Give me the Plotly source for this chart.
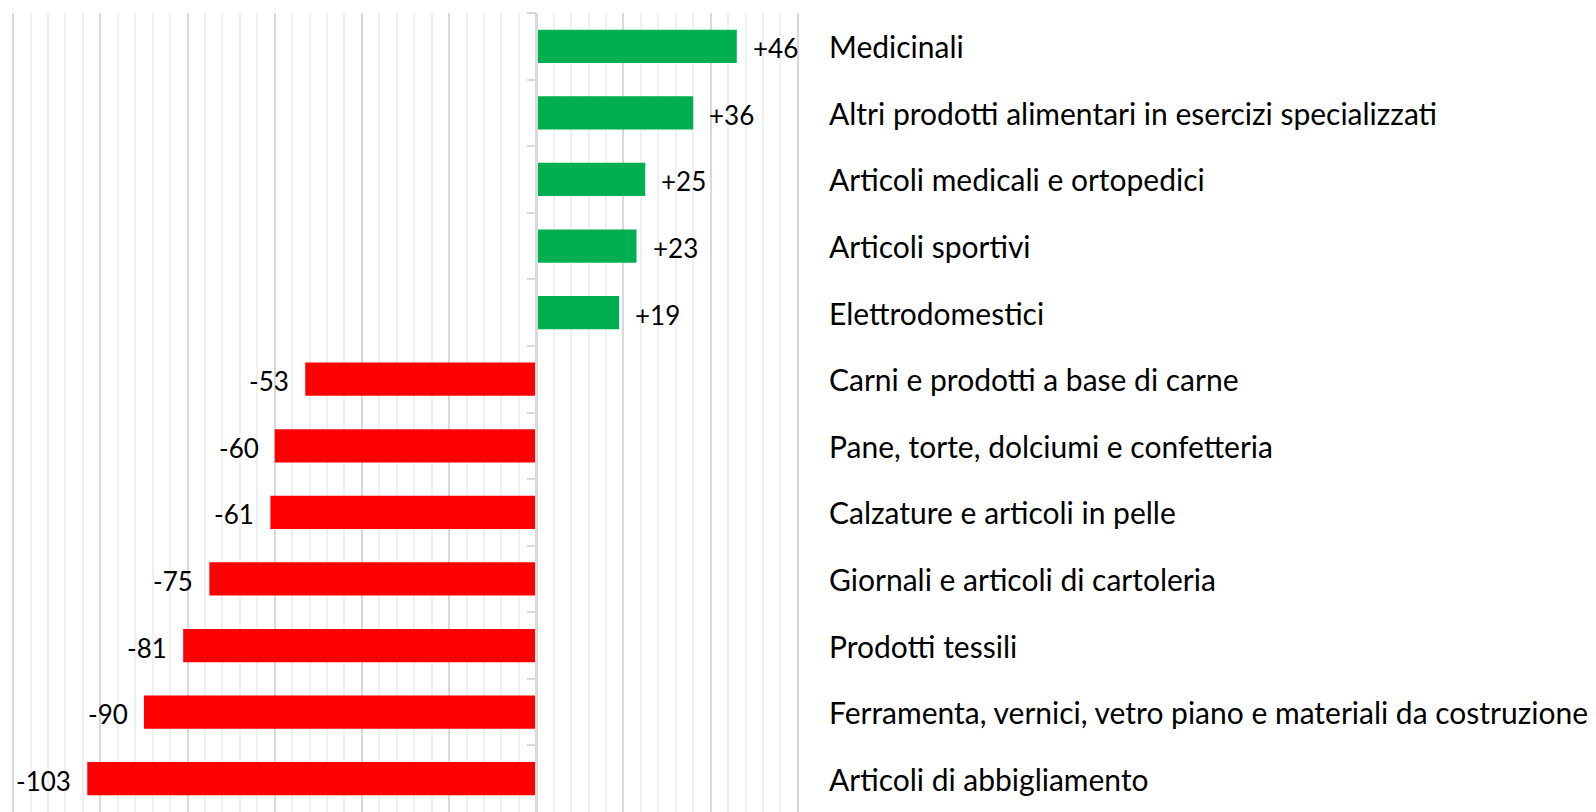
import plotly.graph_objects as go

categories = [
    "Medicinali",
    "Altri prodotti alimentari in esercizi specializzati",
    "Articoli medicali e ortopedici",
    "Articoli sportivi",
    "Elettrodomestici",
    "Carni e prodotti a base di carne",
    "Pane, torte, dolciumi e confetteria",
    "Calzature e articoli in pelle",
    "Giornali e articoli di cartoleria",
    "Prodotti tessili",
    "Ferramenta, vernici, vetro piano e materiali da costruzione",
    "Articoli di abbigliamento",
]
values = [46, 36, 25, 23, 19, -53, -60, -61, -75, -81, -90, -103]

GREEN = "#00b050"
RED = "#ff0000"
FONT = "Lato, Calibri, 'Open Sans', sans-serif"

colors = [GREEN if v >= 0 else RED for v in values]
labels = [f"+{v}" if v > 0 else f"{v}" for v in values]

XMIN, XMAX = -120.5, 60.5

fig = go.Figure()
fig.add_trace(go.Bar(
    x=values, y=categories, orientation="h",
    marker=dict(color=colors, line=dict(width=0)),
    width=0.5, hoverinfo="x+y",
))

annotations = []
for c, v, t in zip(categories, values, labels):
    annotations.append(dict(
        x=v, y=c, xref="x", yref="y", text=t, showarrow=False,
        xanchor="left" if v >= 0 else "right",
        xshift=14 if v >= 0 else -14, yshift=-2,
        font=dict(family=FONT, size=26, color="#000000"),
    ))
    annotations.append(dict(
        x=1, y=c, xref="paper", yref="y", text=c, showarrow=False,
        xanchor="left", xshift=27,
        font=dict(family=FONT, size=30, color="#000000"),
    ))

fig.update_layout(
    width=1588, height=804,
    margin=dict(l=2.5, r=796, t=5, b=0),
    paper_bgcolor="white", plot_bgcolor="white",
    showlegend=False,
    annotations=annotations,
    xaxis=dict(
        range=[XMIN, XMAX], dtick=20, tick0=0,
        showgrid=True, gridcolor="#d9d9d9", gridwidth=2,
        zeroline=False, showticklabels=False, ticks="",
        minor=dict(dtick=4, tick0=0, showgrid=True, gridcolor="#f0f0f0", gridwidth=1.5),
        fixedrange=True,
    ),
    yaxis=dict(
        categoryorder="array", categoryarray=categories,
        autorange="reversed",
        anchor="free", position=(0 - XMIN) / (XMAX - XMIN),
        showline=True, linecolor="#d9d9d9", linewidth=2.5,
        ticks="outside", ticklen=9, tickwidth=2, tickcolor="#d9d9d9",
        tickson="boundaries",
        showgrid=False, showticklabels=False, zeroline=False,
    ),
    bargap=0.5,
)

fig.write_html("out.html")
